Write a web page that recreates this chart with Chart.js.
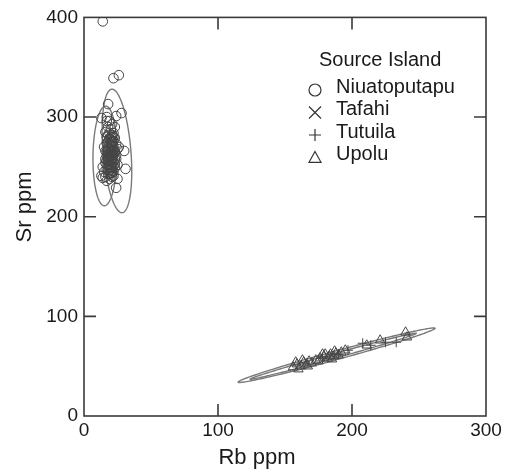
<!DOCTYPE html>
<html>
<head>
<meta charset="utf-8">
<script src="https://cdn.jsdelivr.net/npm/chart.js@4.4.1/dist/chart.umd.min.js"></script>
<style>
  html, body { margin: 0; padding: 0; background: #fff; }
  #wrap { width: 511px; height: 472px; }
</style>
</head>
<body>
<div id="wrap"><canvas id="chart"></canvas></div>
<script>
// --- data (Rb ppm, Sr ppm) ---
var niuaRb = [14, 22, 26, 28, 18, 13, 17, 24, 30, 31, 13, 24, 25,
  16, 18, 20, 22, 19, 21, 23, 17, 15, 18, 20, 22, 24, 16, 19, 21, 23, 25, 17, 20, 22, 18, 21, 24,
  16, 19, 22, 17, 20, 23, 15, 18, 21, 16, 19, 22, 14, 17, 20, 18, 21, 19, 17, 23, 20, 19, 21, 18,
  23, 20, 22, 19, 24, 16, 20, 25, 14, 26, 17,
  18, 20, 21, 19, 22, 20, 18, 21, 19, 20, 22, 18, 21, 19, 20, 23, 17, 21, 19, 20, 22, 18, 20, 21,
  19, 17, 22, 20, 18, 21, 23, 19, 20, 18, 22, 21, 19, 20, 17, 21];
var niuaSr = [396, 339, 342, 304, 313, 299, 296, 301, 266, 248, 241, 229, 238,
  285, 282, 288, 284, 278, 276, 279, 274, 270, 270, 272, 270, 273, 266, 265, 267, 264, 268, 261, 260, 262, 257, 256, 258,
  254, 252, 251, 248, 247, 249, 245, 243, 244, 240, 238, 241, 239, 236, 280, 290, 293, 296, 300, 290, 252, 262, 262, 266,
  258, 268, 276, 284, 262, 258, 244, 252, 250, 270, 280,
  268, 265, 259, 255, 265, 275, 262, 271, 249, 257, 280, 252, 246, 268, 263, 253, 257, 282, 278, 250, 267, 247, 258, 262,
  273, 265, 255, 270, 260, 250, 266, 243, 255, 275, 245, 274, 260, 277, 252, 240];

var tafahiRb = [19, 21, 23];
var tafahiSr = [256, 270, 246];

var tutuilaRb = [208, 233, 197, 214, 225, 190, 178];
var tutuilaSr = [73, 74, 66, 71, 74, 62, 58];

var upoluRb = [156, 159, 162, 164, 166, 168, 160, 170, 176, 179, 182, 184, 186, 188, 190, 192, 180, 185, 173,
  240, 241, 221, 211, 195, 163, 175, 158, 167, 178, 183, 187];
var upoluSr = [49, 52, 50, 54, 52, 55, 47, 53, 58, 60, 58, 62, 60, 63, 61, 64, 62, 57, 56,
  84, 79, 76, 71, 66, 56, 55, 54, 50, 62, 60, 65];

// confidence ellipses: centre and two conjugate semi-axes, in data units
var ellCx = [24.6, 15.7, 188.5, 186];
var ellCy = [266, 261, 61, 60];
var ellUx = [-3.7, 0.5, 73.5, 62];
var ellUy = [62, 50, 27, 23];
var ellVx = [10.4, 9, 0, 0];
var ellVy = [0, 0, 4.5, 2.5];

var xTicks = [0, 100, 200, 300];
var yTicks = [0, 100, 200, 300, 400];
var legendNames = ['Niuatoputapu', 'Tafahi', 'Tutuila', 'Upolu'];
var legendMarks = ['circle', 'cross', 'plus', 'triangle'];

var FONT = '"Liberation Sans", Arial, sans-serif';
var INK = '#1a1a1a';
var MARK = '#454545';
var FRAME = '#3a3a3a';

function pts(xs, ys) {
  return xs.map(function(x, i) { return { x: x, y: ys[i] }; });
}

// ellipses, under the markers
var ellipsePlugin = {
  id: 'ellipses',
  beforeDatasetsDraw: function(chart) {
    var ctx = chart.ctx, sx = chart.scales.x, sy = chart.scales.y;
    ctx.save();
    ctx.strokeStyle = '#7a7a7a';
    ctx.lineWidth = 1.4;
    for (var e = 0; e < ellCx.length; e++) {
      ctx.beginPath();
      for (var k = 0; k <= 180; k++) {
        var t = k / 180 * Math.PI * 2;
        var dx = ellCx[e] + ellUx[e] * Math.cos(t) + ellVx[e] * Math.sin(t);
        var dy = ellCy[e] + ellUy[e] * Math.cos(t) + ellVy[e] * Math.sin(t);
        var px = sx.getPixelForValue(dx), py = sy.getPixelForValue(dy);
        if (k === 0) ctx.moveTo(px, py); else ctx.lineTo(px, py);
      }
      ctx.closePath();
      ctx.stroke();
    }
    ctx.restore();
  }
};

function drawMark(ctx, kind, x, y, r) {
  ctx.beginPath();
  if (kind === 'circle') {
    ctx.arc(x, y, r, 0, Math.PI * 2);
  } else if (kind === 'cross') {
    ctx.moveTo(x - r, y - r); ctx.lineTo(x + r, y + r);
    ctx.moveTo(x + r, y - r); ctx.lineTo(x - r, y + r);
  } else if (kind === 'plus') {
    ctx.moveTo(x - r, y); ctx.lineTo(x + r, y);
    ctx.moveTo(x, y - r); ctx.lineTo(x, y + r);
  } else {
    ctx.moveTo(x, y - r); ctx.lineTo(x + r, y + r * 0.8); ctx.lineTo(x - r, y + r * 0.8); ctx.closePath();
  }
  ctx.stroke();
}

// box, inward ticks on four sides, axis titles, legend
var framePlugin = {
  id: 'frame',
  afterDraw: function(chart) {
    var ctx = chart.ctx, a = chart.chartArea, sx = chart.scales.x, sy = chart.scales.y;
    ctx.save();
    ctx.strokeStyle = FRAME;
    ctx.lineWidth = 1.6;
    ctx.strokeRect(a.left, a.top, a.right - a.left, a.bottom - a.top);
    ctx.beginPath();
    xTicks.slice(1, -1).forEach(function(v) {
      var px = sx.getPixelForValue(v);
      ctx.moveTo(px, a.bottom); ctx.lineTo(px, a.bottom - 12);
      ctx.moveTo(px, a.top); ctx.lineTo(px, a.top + 12);
    });
    yTicks.slice(1, -1).forEach(function(v) {
      var py = sy.getPixelForValue(v);
      ctx.moveTo(a.left, py); ctx.lineTo(a.left + 12, py);
      ctx.moveTo(a.right, py); ctx.lineTo(a.right - 12, py);
    });
    ctx.stroke();

    ctx.fillStyle = INK;
    ctx.font = '22px ' + FONT;
    ctx.textAlign = 'center';
    ctx.textBaseline = 'middle';
    ctx.fillText('Rb ppm', 257, 458);
    ctx.save();
    ctx.translate(25, 207);
    ctx.rotate(-Math.PI / 2);
    ctx.fillText('Sr ppm', 0, 0);
    ctx.restore();

    ctx.textAlign = 'left';
    ctx.font = '20px ' + FONT;
    ctx.fillText('Source Island', 319, 60);
    ctx.strokeStyle = '#333';
    ctx.lineWidth = 1.2;
    legendNames.forEach(function(name, i) {
      var cy = 87 + i * 22.5;
      ctx.fillText(name, 336, cy);
      drawMark(ctx, legendMarks[i], 315, cy + 3, 6);
    });
    ctx.restore();
  }
};

var markerBase = {
  backgroundColor: 'rgba(0,0,0,0)',
  borderColor: MARK,
  borderWidth: 1,
  pointHoverRadius: 0
};

new Chart(document.getElementById('chart'), {
  type: 'scatter',
  data: {
    datasets: [
      Object.assign({ label: legendNames[0], data: pts(niuaRb, niuaSr), pointStyle: 'circle', pointRadius: 4.8 }, markerBase),
      Object.assign({ label: legendNames[1], data: pts(tafahiRb, tafahiSr), pointStyle: 'crossRot', pointRadius: 5 }, markerBase),
      Object.assign({ label: legendNames[2], data: pts(tutuilaRb, tutuilaSr), pointStyle: 'cross', pointRadius: 5 }, markerBase),
      Object.assign({ label: legendNames[3], data: pts(upoluRb, upoluSr), pointStyle: 'triangle', pointRadius: 5.5 }, markerBase)
    ]
  },
  options: {
    responsive: true,
    maintainAspectRatio: false,
    animation: false,
    events: [],
    layout: { padding: { left: 0, right: 25, top: 16, bottom: 0 } },
    plugins: { legend: { display: false }, tooltip: { enabled: false } },
    scales: {
      x: {
        type: 'linear', min: 0, max: 300,
        afterBuildTicks: function(s) { s.ticks = xTicks.map(function(v) { return { value: v }; }); },
        afterFit: function(s) { s.height = 56; },
        grid: { display: false, drawTicks: false },
        border: { display: false },
        ticks: { color: INK, font: { family: FONT, size: 19 }, padding: 3, maxRotation: 0 }
      },
      y: {
        type: 'linear', min: 0, max: 400,
        afterBuildTicks: function(s) { s.ticks = yTicks.map(function(v) { return { value: v }; }); },
        afterFit: function(s) { s.width = 84; },
        grid: { display: false, drawTicks: false },
        border: { display: false },
        ticks: { color: INK, font: { family: FONT, size: 19 }, padding: 6 }
      }
    }
  },
  plugins: [ellipsePlugin, framePlugin]
});
</script>
</body>
</html>
